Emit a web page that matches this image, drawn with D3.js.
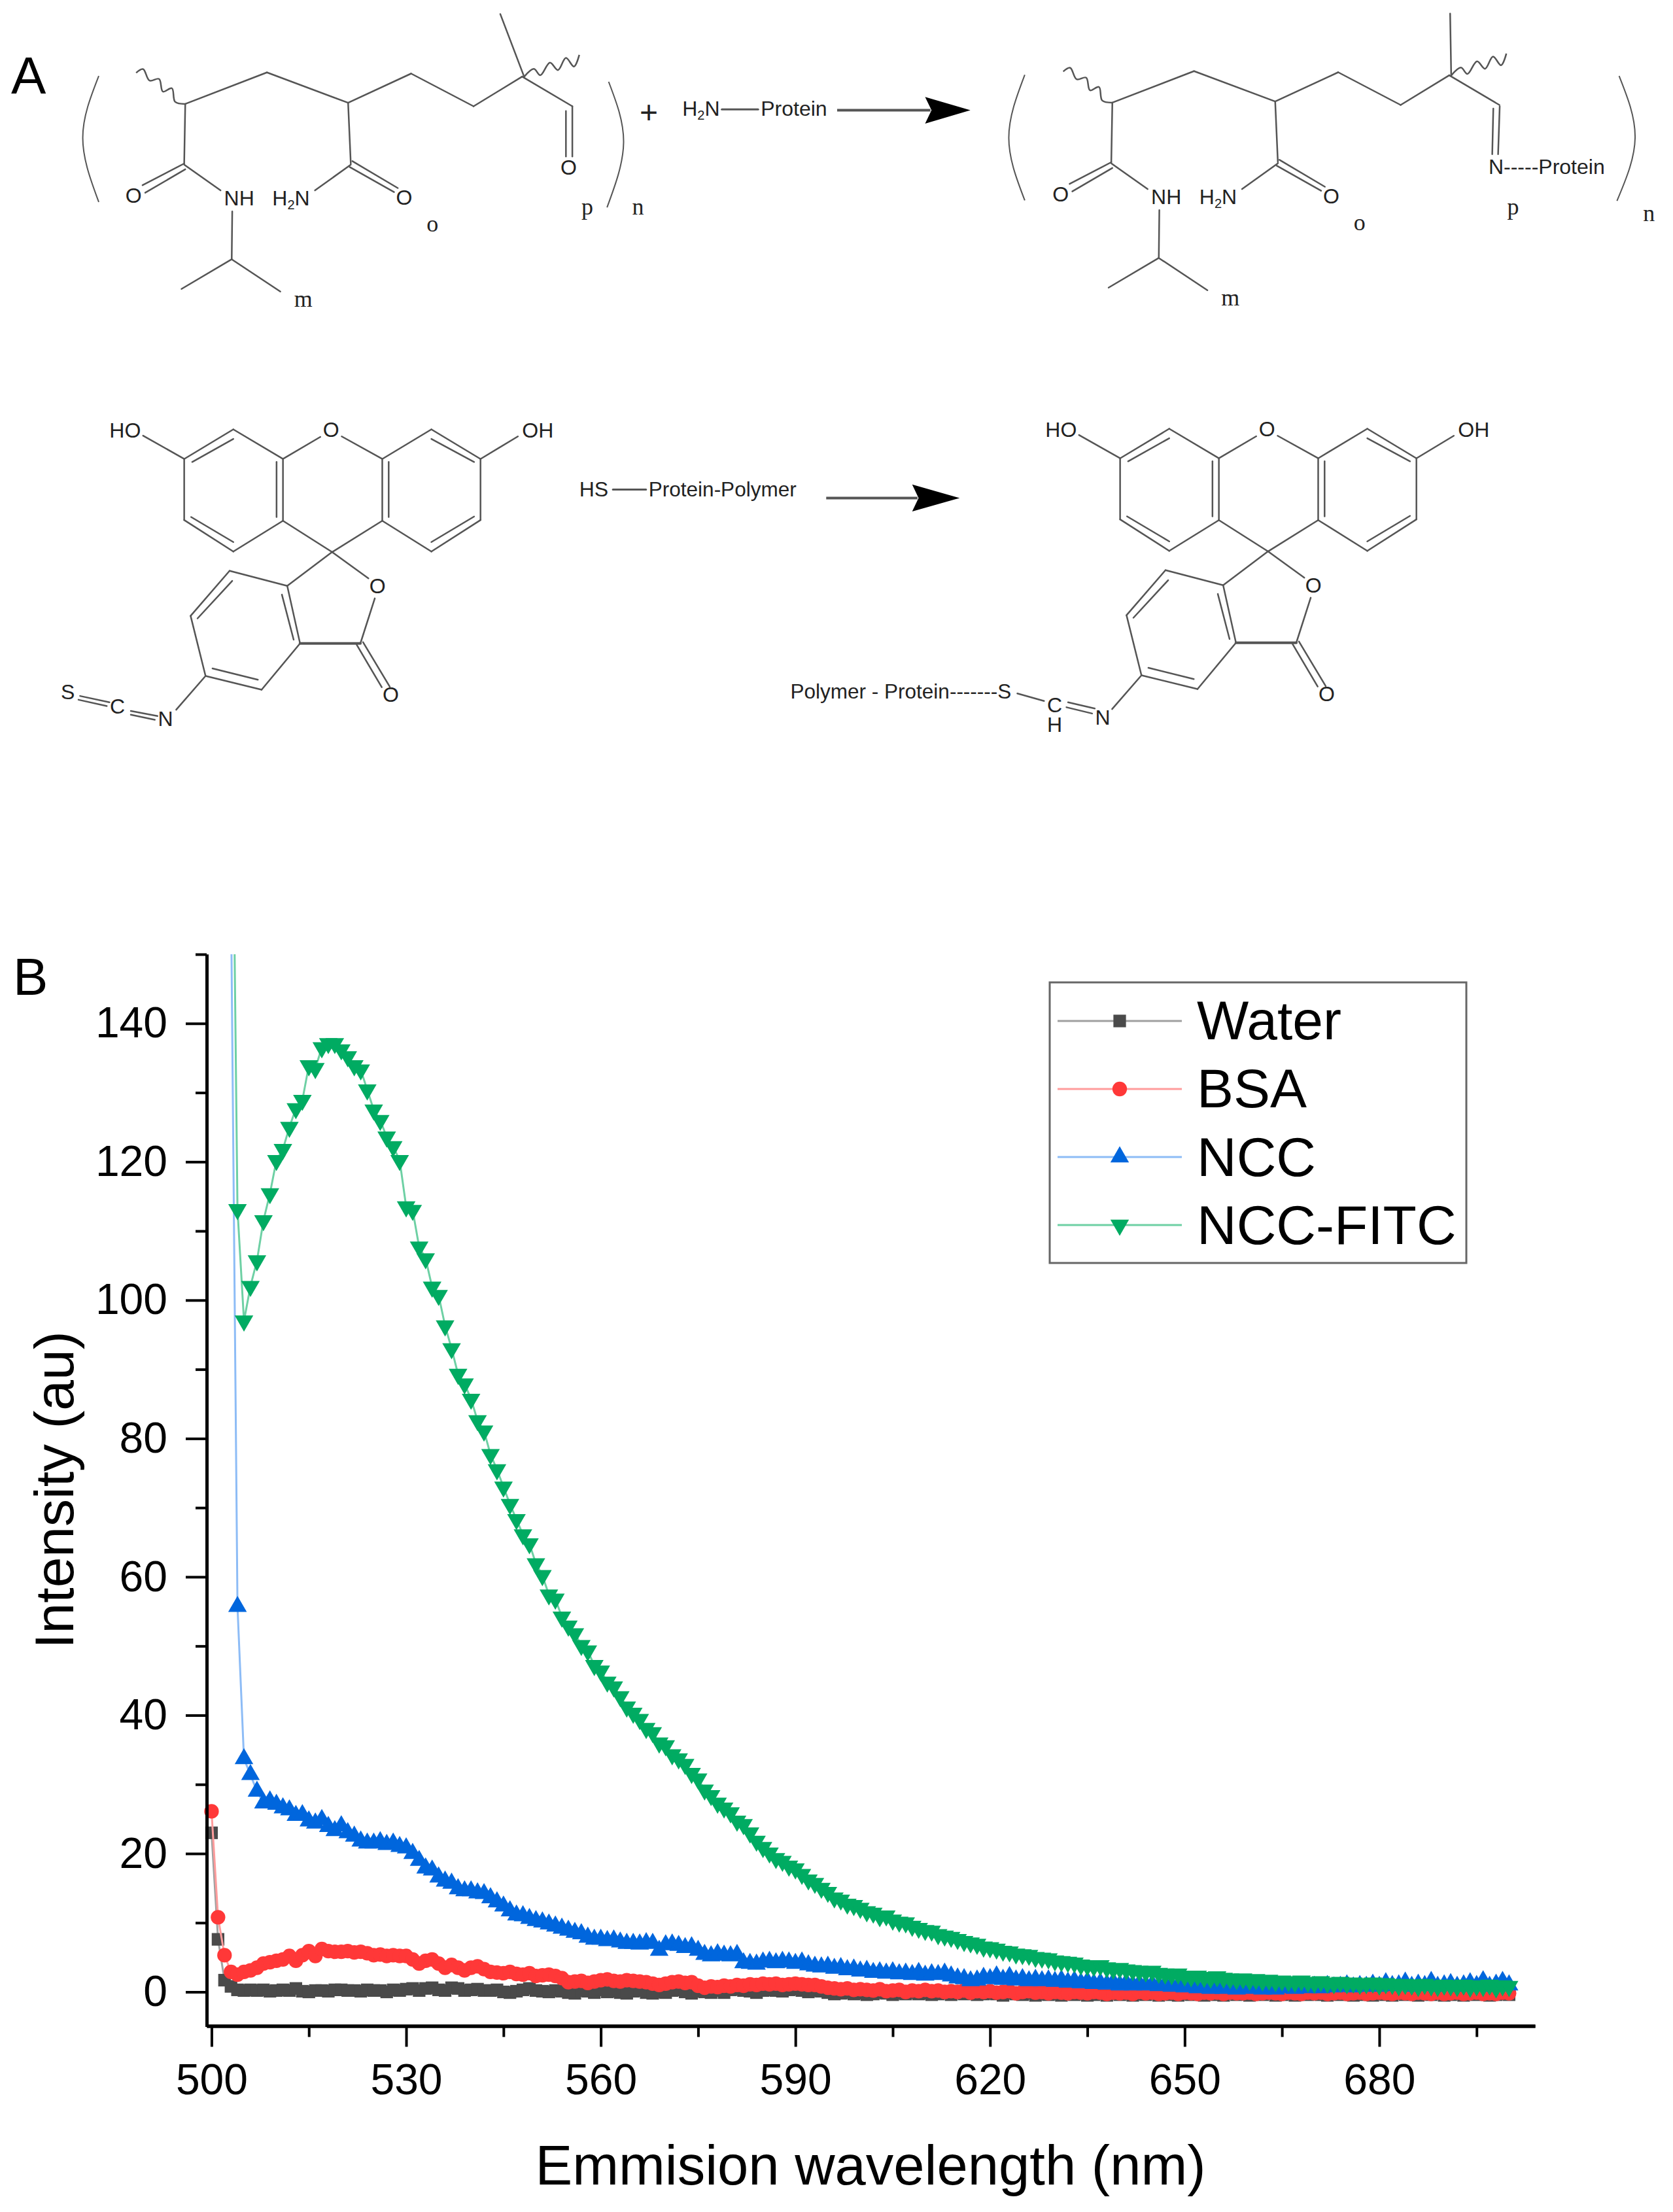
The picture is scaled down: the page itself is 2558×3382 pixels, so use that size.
<!DOCTYPE html>
<html>
<head>
<meta charset="utf-8">
<script src="https://cdn.jsdelivr.net/npm/d3@7"></script>
<style>
  html, body { margin: 0; padding: 0; background: #fff; }
  svg { display: block; }
  text { font-family: "Liberation Sans", Arial, sans-serif; }
</style>
</head>
<body>
<svg id="chart" width="2558" height="3382"></svg>
<script>
// Emission spectra, one reading per nm from 500 to 700
var seriesNames = ["Water", "BSA", "NCC", "NCC-FITC"];
var majorXTicks = [500, 530, 560, 590, 620, 650, 680];
var minorXTicks = [515, 545, 575, 605, 635, 665, 695];
var majorYTicks = [0, 20, 40, 60, 80, 100, 120, 140];
var minorYTicks = [10, 30, 50, 70, 90, 110, 130, 150];

var water = [
  23.0, 7.6, 1.7, 0.8, 0.3, 0.2, 0.3, 0.2, 0.3, 0.1,
  0.2, 0.3, 0.2, 0.5, 0.1, 0.0, 0.2, 0.2, 0.1, 0.3,
  0.3, 0.2, 0.2, 0.1, 0.3, 0.2, 0.2, 0.0, 0.3, 0.2,
  0.4, 0.5, 0.2, 0.5, 0.6, 0.3, 0.2, 0.6, 0.5, 0.2,
  0.3, 0.4, 0.2, 0.2, 0.3, 0.0, -0.1, 0.1, 0.3, 0.5,
  0.2, 0.1, 0.0, 0.2, 0.1, -0.1, -0.2, 0.2, 0.1, -0.1,
  0.3, 0.0, 0.1, -0.1, -0.2, 0.1, 0.2, -0.1, -0.2, 0.0,
  -0.1, 0.2, 0.3, 0.0, -0.2, 0.1, 0.0, -0.1, 0.2, -0.1,
  0.3, 0.4, 0.2, 0.1, -0.1, 0.2, 0.3, 0.2, 0.1, 0.3,
  0.4, 0.2, 0.0, 0.2, 0.1, -0.1, -0.3, -0.2, -0.1, -0.3,
  -0.2, -0.4, -0.3, -0.1, -0.2, -0.4, -0.2, -0.3, -0.1, -0.3,
  -0.2, -0.4, -0.3, -0.2, -0.4, -0.1, -0.3, -0.2, -0.4, -0.3,
  -0.2, -0.3, -0.5, -0.2, -0.3, -0.4, -0.2, -0.5, -0.3, -0.4,
  -0.3, -0.5, -0.2, -0.4, -0.3, -0.5, -0.4, -0.3, -0.5, -0.2,
  -0.4, -0.3, -0.5, -0.3, -0.4, -0.2, -0.5, -0.3, -0.4, -0.5,
  -0.3, -0.4, -0.2, -0.5, -0.3, -0.4, -0.5, -0.2, -0.4, -0.3,
  -0.5, -0.3, -0.4, -0.2, -0.5, -0.4, -0.3, -0.5, -0.3, -0.4,
  -0.2, -0.4, -0.5, -0.3, -0.4, -0.2, -0.5, -0.4, -0.3, -0.5,
  -0.3, -0.4, -0.5, -0.2, -0.4, -0.3, -0.5, -0.3, -0.4, -0.2,
  -0.5, -0.4, -0.3, -0.5, -0.2, -0.4, -0.3, -0.5, -0.4, -0.3,
  -0.4
];

var bsa = [
  26.1, 10.8, 5.3, 2.9, 2.5, 2.9, 3.1, 3.5, 4.1, 4.3,
  4.5, 4.7, 5.2, 4.5, 5.3, 5.9, 5.2, 6.2, 5.9, 5.8,
  5.8, 5.9, 5.7, 5.8, 5.6, 5.3, 5.4, 5.2, 5.3, 5.2,
  5.2, 4.7, 4.1, 4.5, 4.7, 4.1, 3.5, 3.9, 3.5, 3.1,
  3.5, 3.7, 3.3, 2.9, 2.8, 2.7, 2.9, 2.6, 2.5, 2.7,
  2.3, 2.4, 2.5, 2.3, 2.0, 1.4, 1.5, 1.6, 1.3, 1.5,
  1.7, 1.8, 1.6, 1.5, 1.7, 1.6, 1.5, 1.4, 1.2, 1.0,
  1.2, 1.4, 1.5, 1.3, 1.4, 0.9, 0.6, 0.8, 0.7, 0.9,
  0.8, 1.0, 0.9, 1.1, 1.0, 1.2, 1.1, 1.2, 1.0, 1.1,
  1.2, 1.1, 1.0, 1.0, 0.8, 0.6, 0.5, 0.4, 0.5, 0.3,
  0.4, 0.3, 0.2, 0.4, 0.1, 0.2, 0.3, 0.0, 0.2, 0.1,
  0.3, 0.1, 0.2, 0.0, 0.1, 0.0, 0.2, -0.1, 0.1, 0.0,
  0.1, -0.1, 0.0, 0.1, -0.2, 0.0, 0.1, -0.1, 0.0, -0.2,
  0.0, -0.1, -0.2, 0.0, -0.1, -0.2, 0.0, -0.1, -0.3, -0.1,
  -0.2, -0.1, -0.3, 0.0, -0.2, -0.1, -0.3, -0.2, -0.1, -0.3,
  -0.1, -0.2, -0.3, -0.1, -0.2, -0.1, -0.3, -0.1, -0.2, -0.2,
  -0.1, -0.3, -0.2, -0.1, -0.2, -0.3, -0.1, -0.2, -0.3, -0.1,
  -0.2, -0.1, -0.3, -0.2, -0.1, -0.3, -0.2, -0.1, -0.3, -0.2,
  -0.1, -0.2, -0.3, -0.1, -0.2, -0.3, -0.1, -0.2, -0.3, -0.1,
  -0.3, -0.2, -0.1, -0.3, -0.2, -0.1, -0.3, -0.2, -0.3, -0.1,
  -0.2
];

// first three NCC and FITC readings are off the top of the axis
var ncc = [
  420, 330, 240, 158, 55.7, 33.7, 31.4, 29.0, 27.3, 27.6,
  27.1, 26.6, 26.3, 25.5, 25.6, 24.7, 24.4, 24.9, 23.9, 23.3,
  24.0, 23.0, 22.5, 21.8, 21.5, 21.5, 21.7, 21.3, 21.5, 21.0,
  20.8, 20.0, 19.0, 17.9, 17.6, 16.6, 16.0, 15.7, 14.9, 14.6,
  14.6, 14.3, 14.2, 13.6, 13.0, 12.4, 11.7, 11.1, 11.0, 10.6,
  10.3, 10.1, 9.8, 9.5, 9.2, 8.9, 8.6, 8.4, 7.9, 7.6,
  7.6, 7.4, 7.5, 7.2, 7.0, 7.0, 6.9, 7.1, 7.0, 6.0,
  6.8, 6.9, 6.7, 6.4, 6.5, 6.0, 5.4, 5.2, 5.5, 5.3,
  5.2, 5.4, 4.2, 4.1, 4.0, 4.3, 4.4, 4.2, 4.4, 4.3,
  4.1, 4.3, 3.9, 3.7, 3.6, 3.7, 3.4, 3.5, 3.2, 3.3,
  3.0, 3.1, 2.8, 2.9, 2.7, 2.9, 2.6, 2.7, 2.5, 2.8,
  2.4, 2.6, 2.5, 2.7, 2.3, 2.0, 1.9, 1.6, 1.7, 2.1,
  1.9, 2.3, 1.8, 2.2, 1.7, 1.9, 1.6, 1.8, 1.6, 1.7,
  1.5, 1.7, 1.4, 1.6, 1.3, 1.5, 1.2, 1.3, 1.1, 1.4,
  1.0, 1.3, 1.0, 1.2, 1.0, 1.1, 0.9, 1.1, 0.8, 1.0,
  0.7, 0.9, 0.6, 0.8, 0.5, 0.7, 0.5, 0.8, 0.4, 0.6,
  0.5, 0.7, 0.4, 0.6, 0.4, 0.7, 0.6, 0.5, 0.7, 0.6,
  0.8, 0.6, 0.9, 0.7, 0.8, 1.0, 0.7, 0.9, 0.8, 1.1,
  0.8, 1.3, 0.9, 1.0, 1.4, 0.8, 1.1, 0.9, 1.5, 0.8,
  1.0, 1.2, 0.8, 1.0, 1.3, 0.9, 1.6, 0.8, 1.1, 1.5,
  1.0
];

var nccFitc = [
  520, 410, 300, 197, 113.1, 97.0, 102.0, 105.7, 111.5, 115.4,
  120.2, 121.8, 125.0, 127.7, 128.9, 133.9, 133.5, 136.5, 137.1, 137.1,
  136.2, 135.2, 133.9, 133.3, 130.4, 127.5, 126.0, 123.6, 122.2, 120.2,
  113.5, 113.0, 107.7, 106.0, 101.9, 100.7, 96.3, 93.0, 89.3, 87.9,
  85.7, 82.6, 81.1, 77.7, 75.5, 73.0, 70.5, 68.3, 66.1, 64.8,
  61.9, 60.2, 57.4, 56.8, 54.2, 52.9, 51.8, 50.1, 49.3, 47.2,
  46.4, 44.8, 44.1, 42.7, 41.2, 40.3, 39.4, 38.1, 37.5, 36.0,
  35.6, 34.3, 33.7, 32.9, 31.6, 30.8, 29.2, 28.4, 27.3, 26.6,
  25.9, 24.7, 24.2, 23.0, 21.8, 20.9, 20.1, 19.3, 18.9, 18.2,
  17.8, 17.0, 16.2, 15.7, 15.0, 14.4, 13.6, 13.3, 12.7, 12.5,
  12.1, 11.6, 11.4, 10.9, 11.0, 10.4, 10.1, 10.0, 9.5, 9.2,
  8.9, 8.8, 8.3, 8.1, 7.9, 7.6, 7.3, 7.1, 6.9, 6.5,
  6.4, 6.2, 5.9, 5.8, 5.5, 5.4, 5.3, 5.0, 4.9, 4.8,
  4.5, 4.4, 4.3, 4.2, 3.9, 3.8, 3.7, 3.8, 3.5, 3.3,
  3.4, 3.2, 3.1, 3.0, 2.9, 3.0, 2.7, 2.6, 2.5, 2.6,
  2.3, 2.2, 2.3, 2.1, 2.0, 2.2, 2.0, 1.9, 1.8, 1.9,
  1.7, 1.8, 1.6, 1.7, 1.5, 1.6, 1.5, 1.4, 1.6, 1.4,
  1.3, 1.5, 1.3, 1.2, 1.4, 1.2, 1.3, 1.1, 1.2, 1.3,
  1.0, 1.2, 1.1, 0.9, 1.1, 1.0, 0.8, 1.1, 0.9, 0.8,
  1.0, 0.9, 0.8, 1.0, 0.7, 0.9, 0.8, 1.0, 0.6, 0.9,
  0.8
];

var allSeries = [water, bsa, ncc, nccFitc];
var wavelengths = d3.range(500, 701);

var markerColors = ["#4a4a4a", "#ff3838", "#0066dd", "#00ab62"];
var lineColors = ["#a0a0a0", "#ff9c9c", "#8dbcf6", "#6ed0a4"];
var markerSymbols = [d3.symbolSquare, d3.symbolCircle, d3.symbolTriangle, d3.symbolTriangle];
var markerSizes = [370, 390, 350, 350];
var markerRotate = [0, 0, 0, 180];

var svg = d3.select("#chart");

// ---------- panel B ----------
var x = d3.scaleLinear().domain([499.25, 704]).range([316, 2347]);
var y = d3.scaleLinear().domain([-5, 150]).range([3098.4, 1459]);

svg.append("clipPath").attr("id", "plot-clip")
  .append("rect")
    .attr("x", 0).attr("y", y(150))
    .attr("width", 2558).attr("height", 3382 - y(150));

var plot = svg.append("g");
var marker = function(i) {
  return d3.symbol().type(markerSymbols[i]).size(markerSizes[i])();
};

allSeries.forEach(function(values, i) {
  var line = d3.line()
    .x(function(d, j) { return x(wavelengths[j]); })
    .y(function(d) { return y(d); });

  var group = plot.append("g");
  group.append("path")
    .attr("clip-path", "url(#plot-clip)")
    .attr("fill", "none")
    .attr("stroke", lineColors[i])
    .attr("stroke-width", 3)
    .attr("d", line(values));

  group.selectAll("path.mark")
    .data(values.map(function(v, j) { return { x: wavelengths[j], y: v }; })
      .filter(function(d) { return d.y <= 150; }))
    .enter().append("path")
      .attr("class", "mark")
      .attr("fill", markerColors[i])
      .attr("transform", function(d) {
        return "translate(" + x(d.x) + "," + y(d.y) + ") rotate(" + markerRotate[i] + ")";
      })
      .attr("d", marker(i));
});

function styleAxis(g, fontSize) {
  g.selectAll("path.domain").attr("stroke", "#000").attr("stroke-width", 5);
  g.selectAll(".tick line").attr("stroke", "#000").attr("stroke-width", 4);
  g.selectAll(".tick text")
    .attr("font-size", fontSize)
    .attr("font-family", '"Liberation Sans", Arial, sans-serif')
    .attr("fill", "#000");
}

var xAxisY = y(-5) - 1;
var yAxisX = x(499.25);

svg.append("g")
  .attr("transform", "translate(0," + xAxisY + ")")
  .call(d3.axisBottom(x).tickValues(minorXTicks).tickSize(17).tickSizeOuter(0).tickFormat(""))
  .call(styleAxis, 66);

svg.append("g")
  .attr("transform", "translate(0," + xAxisY + ")")
  .call(d3.axisBottom(x).tickValues(majorXTicks).tickSize(32).tickSizeOuter(0).tickPadding(26))
  .call(styleAxis, 66);

svg.append("g")
  .attr("transform", "translate(" + yAxisX + ",0)")
  .call(d3.axisLeft(y).tickValues(minorYTicks).tickSize(17).tickSizeOuter(0).tickFormat(""))
  .call(styleAxis, 66);

svg.append("g")
  .attr("transform", "translate(" + yAxisX + ",0)")
  .call(d3.axisLeft(y).tickValues(majorYTicks).tickSize(32).tickSizeOuter(0).tickPadding(28))
  .call(styleAxis, 66);

svg.append("text")
  .attr("x", 1331).attr("y", 3340)
  .attr("text-anchor", "middle")
  .attr("font-size", 85)
  .text("Emmision wavelength (nm)");

svg.append("text")
  .attr("transform", "translate(112,2278) rotate(-90)")
  .attr("text-anchor", "middle")
  .attr("font-size", 84)
  .text("Intensity (au)");

// legend
var legendRows = [1561, 1665, 1769, 1873];
var legendBaselines = [1589, 1693, 1798, 1902];
var legend = svg.append("g");

legend.append("rect")
  .attr("x", 1605).attr("y", 1502)
  .attr("width", 637).attr("height", 429)
  .attr("fill", "#fff")
  .attr("stroke", "#666")
  .attr("stroke-width", 3);

seriesNames.forEach(function(name, i) {
  legend.append("line")
    .attr("x1", 1617).attr("x2", 1807)
    .attr("y1", legendRows[i]).attr("y2", legendRows[i])
    .attr("stroke", lineColors[i])
    .attr("stroke-width", 3);
  legend.append("path")
    .attr("transform", "translate(1712," + legendRows[i] + ") rotate(" + markerRotate[i] + ")")
    .attr("fill", markerColors[i])
    .attr("d", marker(i));
  legend.append("text")
    .attr("x", 1830).attr("y", legendBaselines[i])
    .attr("font-size", 84)
    .text(name);
});

// ---------- panel A, the reaction schemes ----------
var panelLabels = [
  { text: "A", x: 17, y: 143 },
  { text: "B", x: 20, y: 1521 }
];
svg.selectAll("text.panel")
  .data(panelLabels)
  .enter().append("text")
    .attr("class", "panel")
    .attr("x", function(d) { return d.x; })
    .attr("y", function(d) { return d.y; })
    .attr("font-size", 80)
    .text(function(d) { return d.text; });

var bondColor = "#555";
var inkColor = "#222";

// bonds are noted as [x1, y1, x2, y2] in a 1280 wide drawing frame
function scheme(ox, oy, sx, sy) {
  var g = svg.append("g");
  var px = function(v) { return ox + v / sx; };
  var py = function(v) { return oy + v / sy; };
  return {
    bonds: function(list, width) {
      list.forEach(function(b) {
        g.append("line")
          .attr("x1", px(b[0])).attr("y1", py(b[1]))
          .attr("x2", px(b[2])).attr("y2", py(b[3]))
          .attr("stroke", bondColor)
          .attr("stroke-width", width || 2.5)
          .attr("stroke-linecap", "round");
      });
    },
    curve: function(points, width, kind) {
      var path = d3.line()
        .x(function(d) { return px(d[0]); })
        .y(function(d) { return py(d[1]); })
        .curve(kind || d3.curveCatmullRom);
      g.append("path")
        .attr("d", path(points))
        .attr("fill", "none")
        .attr("stroke", bondColor)
        .attr("stroke-width", width || 2.5);
    },
    // atom label centred on a point
    atom: function(text, cx, cy) {
      g.append("text")
        .attr("x", px(cx)).attr("y", py(cy) + 11.5)
        .attr("text-anchor", "middle")
        .attr("font-size", 32)
        .attr("fill", inkColor)
        .text(text);
    },
    // text starting at a point, on its baseline
    label: function(text, sxPos, base, size) {
      g.append("text")
        .attr("x", px(sxPos)).attr("y", py(base))
        .attr("font-size", size || 32)
        .attr("fill", inkColor)
        .text(text);
    },
    sub: function(first, low, last, sxPos, base) {
      var t = g.append("text")
        .attr("x", px(sxPos)).attr("y", py(base))
        .attr("font-size", 32)
        .attr("fill", inkColor);
      t.append("tspan").text(first);
      t.append("tspan").attr("font-size", 20).attr("dy", 6).text(low);
      t.append("tspan").attr("dy", -6).text(last);
    },
    index: function(text, cx, base) {
      g.append("text")
        .attr("x", px(cx)).attr("y", py(base))
        .attr("text-anchor", "middle")
        .attr("font-size", 36)
        .style("font-family", '"Liberation Serif", serif')
        .attr("fill", inkColor)
        .text(text);
    },
    arrow: function(x1, y1, hx, hy, tx, ty) {
      g.append("line")
        .attr("x1", px(x1)).attr("y1", py(y1))
        .attr("x2", px(hx + 10)).attr("y2", py(y1))
        .attr("stroke", "#555").attr("stroke-width", 4);
      g.append("path")
        .attr("fill", "#000")
        .attr("d", d3.line()([
          [px(hx), py(hy)], [px(tx), py(ty)], [px(hx), py(2 * ty - hy)], [px(hx + 12), py(ty)]
        ]) + "Z");
    }
  };
}

var polymerChain = [
  [347, 445, 500, 310], [500, 310, 652, 440], [652, 440, 770, 315], [770, 315, 887, 455],
  [887, 455, 978, 328], [978, 328, 1072, 455],
  [347, 445, 345, 700], [345, 700, 267, 793], [347, 725, 272, 825], [345, 705, 413, 815],
  [435, 905, 434, 1110], [434, 1110, 340, 1237], [434, 1110, 525, 1248],
  [652, 440, 657, 700], [657, 705, 590, 815], [660, 690, 745, 805], [655, 715, 738, 822]
];
var wavyLeft = [[255, 312], [268, 296], [280, 345], [298, 338], [305, 392], [322, 378], [328, 436], [347, 445]];
var wavyRight = [[982, 328], [1000, 295], [1012, 322], [1030, 268], [1045, 300], [1060, 248], [1075, 285], [1085, 235]];

function polymer(s) {
  s.bonds(polymerChain);
  s.curve(wavyLeft);
  s.curve(wavyRight);
  s.atom("O", 250, 835);
  s.atom("NH", 448, 848);
  s.atom("O", 757, 845);
  s.sub("H", "2", "N", 510, 878);
  s.index("o", 810, 992);
  s.index("m", 568, 1312);
}

var leftPolymer = scheme(0, 0, 1.225, 2.8);
polymer(leftPolymer);
leftPolymer.bonds([[937, 60, 982, 330], [1072, 455, 1072, 670], [1060, 475, 1060, 670]]);
leftPolymer.atom("O", 1065, 715);
leftPolymer.index("p", 1100, 918);
leftPolymer.index("n", 1195, 918);
leftPolymer.curve([[185, 325], [155, 590], [185, 865]], 2, d3.curveNatural);
leftPolymer.curve([[1140, 350], [1168, 610], [1137, 888]], 2, d3.curveNatural);
leftPolymer.label("+", 1198, 527, 48);
leftPolymer.sub("H", "2", "N", 1278, 495);
leftPolymer.bonds([[1352, 468, 1420, 468]], 3);
leftPolymer.label("Protein", 1425, 495);

var reactionArrow = scheme(1280, 0, 1.227, 2.8);
reactionArrow.arrow(0, 472, 165, 415, 250, 472);

var rightPolymer = scheme(1417.5, -2, 1.225, 2.8);
polymer(rightPolymer);

var rightEnd = scheme(1280, 0, 1.227, 2.8);
rightEnd.bonds([[1150, 58, 1152, 325], [1243, 455, 1240, 660], [1231, 465, 1229, 660]]);
rightEnd.label("N-----Protein", 1222, 745);
rightEnd.index("p", 1268, 918);
rightEnd.index("n", 1523, 945);
rightEnd.curve([[352, 320], [322, 590], [352, 858]], 2, d3.curveNatural);
rightEnd.curve([[1467, 325], [1497, 590], [1463, 860]], 2, d3.curveNatural);

var fluoresceinBonds = [
  [268, 225, 345, 318], [345, 318, 437, 200], [360, 330, 437, 238], [437, 200, 530, 318],
  [530, 318, 530, 565], [518, 330, 518, 550], [530, 565, 437, 688], [437, 688, 345, 562],
  [437, 650, 358, 550], [345, 562, 345, 318],
  [530, 318, 600, 230], [640, 228, 716, 318],
  [716, 318, 808, 200], [808, 200, 900, 318], [808, 238, 888, 330], [900, 318, 970, 228],
  [900, 318, 900, 562], [900, 562, 808, 688], [888, 548, 808, 650], [808, 688, 716, 565],
  [716, 318, 716, 565], [728, 330, 728, 550],
  [530, 565, 622, 690], [716, 565, 622, 690], [622, 690, 538, 825], [622, 690, 690, 795],
  [538, 825, 430, 765], [430, 765, 357, 945], [435, 805, 370, 955], [357, 945, 385, 1185],
  [385, 1185, 490, 1240], [398, 1155, 483, 1200], [490, 1240, 562, 1055], [562, 1055, 538, 825],
  [550, 1040, 528, 860], [675, 1055, 702, 875],
  [680, 1050, 730, 1228], [668, 1060, 715, 1230], [385, 1185, 330, 1320]
];
var lactoneBond = [[562, 1055, 675, 1055]];

function fluorescein(s) {
  s.bonds(fluoresceinBonds);
  s.bonds(lactoneBond, 4);
  s.label("HO", 205, 232);
  s.label("OH", 978, 232);
  s.atom("O", 620, 200);
  s.atom("O", 707, 825);
  s.atom("O", 732, 1258);
}

var leftDye = scheme(0, 580, 1.225, 2.613);
fluorescein(leftDye);
leftDye.bonds([[245, 1325, 295, 1345], [245, 1340, 290, 1360], [150, 1265, 205, 1290], [147, 1280, 200, 1305]]);
leftDye.atom("S", 127, 1248);
leftDye.atom("C", 220, 1305);
leftDye.atom("N", 310, 1355);
leftDye.label("HS", 1085, 468);
leftDye.bonds([[1148, 440, 1210, 440]], 3);
leftDye.label("Protein-Polymer", 1215, 468, 31.5);

var secondArrow = scheme(1180, 580, 1.225, 2.613);
secondArrow.arrow(102, 474, 263, 420, 352, 474);

var rightDye = scheme(1431, 579, 1.225, 2.613);
fluorescein(rightDye);

var conjugate = scheme(1180, 580, 1.225, 2.613);
conjugate.bonds([[555, 1290, 605, 1315], [552, 1310, 600, 1335], [460, 1255, 510, 1285]]);
conjugate.label("Polymer - Protein-------S", 35, 1275, 31.5);
conjugate.atom("C", 530, 1300);
conjugate.atom("H", 530, 1378);
conjugate.atom("N", 620, 1350);
</script>
</body>
</html>
